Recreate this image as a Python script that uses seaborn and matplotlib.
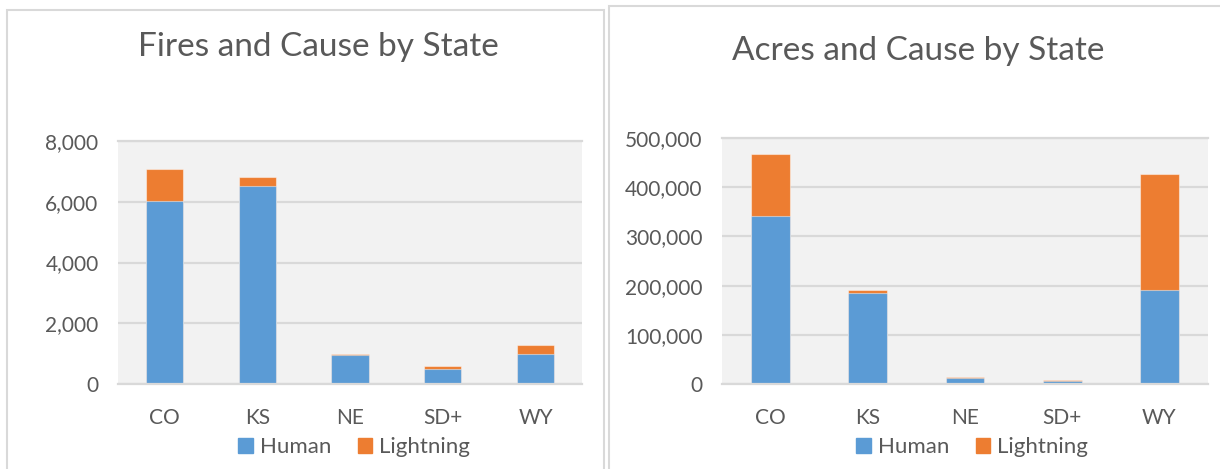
import numpy as np
import pandas as pd
import matplotlib.pyplot as plt
import seaborn as sns
from matplotlib.patches import Rectangle, Patch
from matplotlib.ticker import FuncFormatter

# Data
states = ["CO", "KS", "NE", "SD+", "WY"]
fires_human = [6010, 6510, 940, 480, 995]
fires_lightning = [1060, 310, 45, 110, 285]
acres_human = [341500, 185000, 12900, 6100, 191700]
acres_lightning = [125300, 6000, 1300, 2000, 235100]

blue = "#5B9BD5"
orange = "#ED7D31"
text_color = "#595959"
grid_color = "#D9D9D9"
plot_bg = "#F2F2F2"

sns.set_theme(style="white")
plt.rcParams["font.family"] = ["Lato", "DejaVu Sans"]

W, H = 1220, 469
fig = plt.figure(figsize=(W / 100, H / 100), dpi=100)


def px_box(x0, y0, x1, y1):
    # pixel box (top-left origin) -> figure fraction [left, bottom, width, height]
    return [x0 / W, (H - y1) / H, (x1 - x0) / W, (y1 - y0) / H]


def stacked_chart(box, title, title_xy, human, lightning, ymax, step, legend_x):
    ax = fig.add_axes(px_box(*box))
    df = pd.DataFrame({"State": states, "Human": human, "Lightning": lightning})
    df["Total"] = df["Human"] + df["Lightning"]

    edge = (1, 1, 1, 0.45)
    sns.barplot(data=df, x="State", y="Total", color=orange, saturation=1,
                width=0.4, edgecolor=edge, linewidth=0.8, ax=ax)
    sns.barplot(data=df, x="State", y="Human", color=blue, saturation=1,
                width=0.4, edgecolor=edge, linewidth=0.8, ax=ax)

    ax.set_facecolor(plot_bg)
    ax.set_xlim(-0.5, 4.5)
    ax.set_ylim(0, ymax)
    ax.set_yticks(np.arange(0, ymax + 1, step))
    ax.yaxis.set_major_formatter(FuncFormatter(lambda v, p: f"{v:,.0f}"))
    ax.set_axisbelow(True)
    ax.yaxis.grid(True, color=grid_color, lw=1.6)
    for s in ["left", "right"]:
        ax.spines[s].set_visible(False)
    for s in ["top", "bottom"]:
        ax.spines[s].set_color(grid_color)
        ax.spines[s].set_linewidth(1.6)
    ax.set_xlabel("")
    ax.set_ylabel("")
    ax.tick_params(axis="both", length=0, labelsize=15, colors=text_color)
    ax.tick_params(axis="y", pad=14)
    ax.tick_params(axis="x", pad=17)

    fig.text(title_xy[0] / W, 1 - title_xy[1] / H, title, ha="center", va="center",
             fontsize=24, color=text_color)

    handles = [Patch(color=blue, label="Human"), Patch(color=orange, label="Lightning")]
    fig.legend(handles=handles, loc="center", ncol=2, frameon=False,
               bbox_to_anchor=(legend_x / W, 1 - 447 / H), fontsize=16,
               labelcolor=text_color, handlelength=0.65, handleheight=0.65,
               handletextpad=0.3, columnspacing=1.2)
    return ax


# panel frames
fig.patches.append(Rectangle((7 / W, -0.05), (604 - 7) / W, (H - 10) / H + 0.05,
                             transform=fig.transFigure, fill=False,
                             edgecolor=grid_color, lw=1.5))
fig.patches.append(Rectangle((609 / W, -0.05), (W + 10 - 609) / W, (H - 6) / H + 0.05,
                             transform=fig.transFigure, fill=False,
                             edgecolor=grid_color, lw=1.5))

stacked_chart((118, 141, 582, 384), "Fires and Cause by State", (318, 47),
              fires_human, fires_lightning, 8000, 2000, 354)
stacked_chart((722, 138, 1208, 384), "Acres and Cause by State", (918, 51),
              acres_human, acres_lightning, 500000, 100000, 972)

fig.savefig("out.png", dpi=100)
